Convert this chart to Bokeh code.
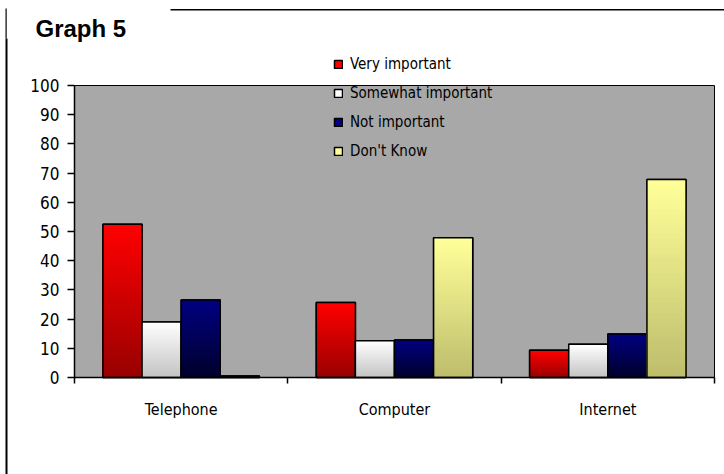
import numpy as np
from bokeh.plotting import figure
from bokeh.models import (Range1d, FixedTicker, Legend, LegendItem, Label,
                          BoxAnnotation, ColumnDataSource)
from bokeh.embed import file_html
from bokeh.resources import INLINE

# ---- data ----
categories = ["Telephone", "Computer", "Internet"]
series = ["Very important", "Somewhat important", "Not important", "Don't Know"]
very_important = [52.5, 25.7, 9.3]
somewhat_important = [19.0, 12.6, 11.4]
not_important = [26.5, 12.8, 14.9]
dont_know = [0.5, 47.9, 67.8]
y_ticks = [0, 10, 20, 30, 40, 50, 60, 70, 80, 90, 100]

values = [very_important, somewhat_important, not_important, dont_know]
top_colors = ["#ff0000", "#ffffff", "#000080", "#ffff99"]
bottom_colors = ["#960000", "#c2c2c2", "#00002a", "#bcbc6c"]

FONT = "DejaVu Sans Condensed"
W, H = 724, 474
# plot-area placement on the page (pixels)
PL, PR, PT, PB = 74, 714, 85, 377

n = len(categories)
ymax = y_ticks[-1]
xs_px = (PR - PL) / n
ys_px = (PB - PT) / ymax

p = figure(width=W, height=H, output_backend="svg", toolbar_location=None,
           x_range=Range1d(-PL / xs_px, n + (W - PR) / xs_px),
           y_range=Range1d(-(H - PB) / ys_px, ymax + PT / ys_px),
           min_border=0, min_border_left=0, min_border_right=0,
           min_border_top=0, min_border_bottom=0)
p.background_fill_color = "white"
p.border_fill_color = "white"
p.outline_line_color = None
p.grid.visible = False

# grey plot area
p.quad(left=[0], right=[n], bottom=[0], top=[ymax],
       fill_color="#a8a8a8", line_color="black", line_width=1)

# x axis
centers = [i + 0.5 for i in range(n)]
xa = p.xaxis[0]
xa.fixed_location = 0
xa.bounds = (0, n)
xa.ticker = FixedTicker(ticks=centers, minor_ticks=list(range(n + 1)))
xa.major_label_overrides = {c: cat for c, cat in zip(centers, categories)}
xa.major_tick_out = 0
xa.major_tick_in = 0
xa.minor_tick_out = 6
xa.minor_tick_in = 0
xa.minor_tick_line_color = "black"
xa.minor_tick_line_width = 1.5
xa.axis_line_color = "black"
xa.axis_line_width = 1.5
xa.major_label_standoff = 16
xa.major_label_text_font = FONT
xa.major_label_text_font_size = "16px"
xa.major_label_text_color = "black"

ya = p.yaxis[0]
ya.fixed_location = 0
ya.bounds = (0, ymax)
ya.ticker = FixedTicker(ticks=y_ticks, minor_ticks=[])
ya.major_tick_out = 7
ya.major_tick_in = 0
ya.major_tick_line_color = "black"
ya.major_tick_line_width = 1.5
ya.axis_line_color = "black"
ya.axis_line_width = 1.5
ya.major_label_standoff = 8
ya.major_label_text_font = FONT
ya.major_label_text_font_size = "17px"
ya.major_label_text_color = "black"

# bars with vertical gradient
w = 0.1833
N = 40

def mix(c1, c2, t):
    a = np.array([int(c1[i:i + 2], 16) for i in (1, 3, 5)], float)
    b = np.array([int(c2[i:i + 2], 16) for i in (1, 3, 5)], float)
    c = a + (b - a) * t
    return "#%02x%02x%02x" % tuple(int(round(v)) for v in c)

legend_renderers = []
for j, vals in enumerate(values):
    xs = [c + (j - 1.5) * w for c in centers]
    src = ColumnDataSource(dict(x=xs, top=vals))
    r = p.vbar(x="x", top="top", bottom=0, width=w, source=src,
               fill_color=top_colors[j], line_color="black", line_width=1.5)
    legend_renderers.append(r)
    sx, stop, scol = [], [], []
    for k in range(N, 0, -1):
        t = k / N
        for x, v in zip(xs, vals):
            sx.append(x)
            stop.append(v * t)
            scol.append(mix(bottom_colors[j], top_colors[j], t))
    p.vbar(x=sx, top=stop, bottom=0, width=w, fill_color=scol, line_color=None)
    p.vbar(x="x", top="top", bottom=0, width=w, source=src,
           fill_color=None, line_color="black", line_width=1.5)

legend = Legend(items=[LegendItem(label=s, renderers=[r])
                       for s, r in zip(series, legend_renderers)],
                location=(333, H - 161), orientation="vertical",
                background_fill_alpha=0, border_line_alpha=0,
                glyph_width=10, glyph_height=10, label_height=20,
                spacing=9, padding=0, margin=0, label_standoff=7,
                label_text_font=FONT, label_text_font_size="15px",
                label_text_color="black")
p.add_layout(legend, "center")

# title and page decorations (screen units from the frame's bottom-left)
p.add_layout(Label(x=35, y=H - 28, x_units="screen", y_units="screen",
                   text="Graph 5", text_font="Liberation Sans",
                   text_font_style="bold", text_font_size="24px",
                   text_color="black", text_baseline="alphabetic"))
p.add_layout(BoxAnnotation(left=5, right=6.2, top=H - 8, bottom=H - 38,
                           left_units="screen", right_units="screen",
                           top_units="screen", bottom_units="screen",
                           fill_color="black", fill_alpha=1, line_color=None))
p.add_layout(BoxAnnotation(left=5, right=7, top=H - 38, bottom=-2,
                           left_units="screen", right_units="screen",
                           top_units="screen", bottom_units="screen",
                           fill_color="black", fill_alpha=1, line_color=None))
p.add_layout(BoxAnnotation(left=170, right=W + 2, top=H - 8.5, bottom=H - 10,
                           left_units="screen", right_units="screen",
                           top_units="screen", bottom_units="screen",
                           fill_color="black", fill_alpha=1, line_color=None))

open("out.html", "w").write(file_html(p, INLINE))
